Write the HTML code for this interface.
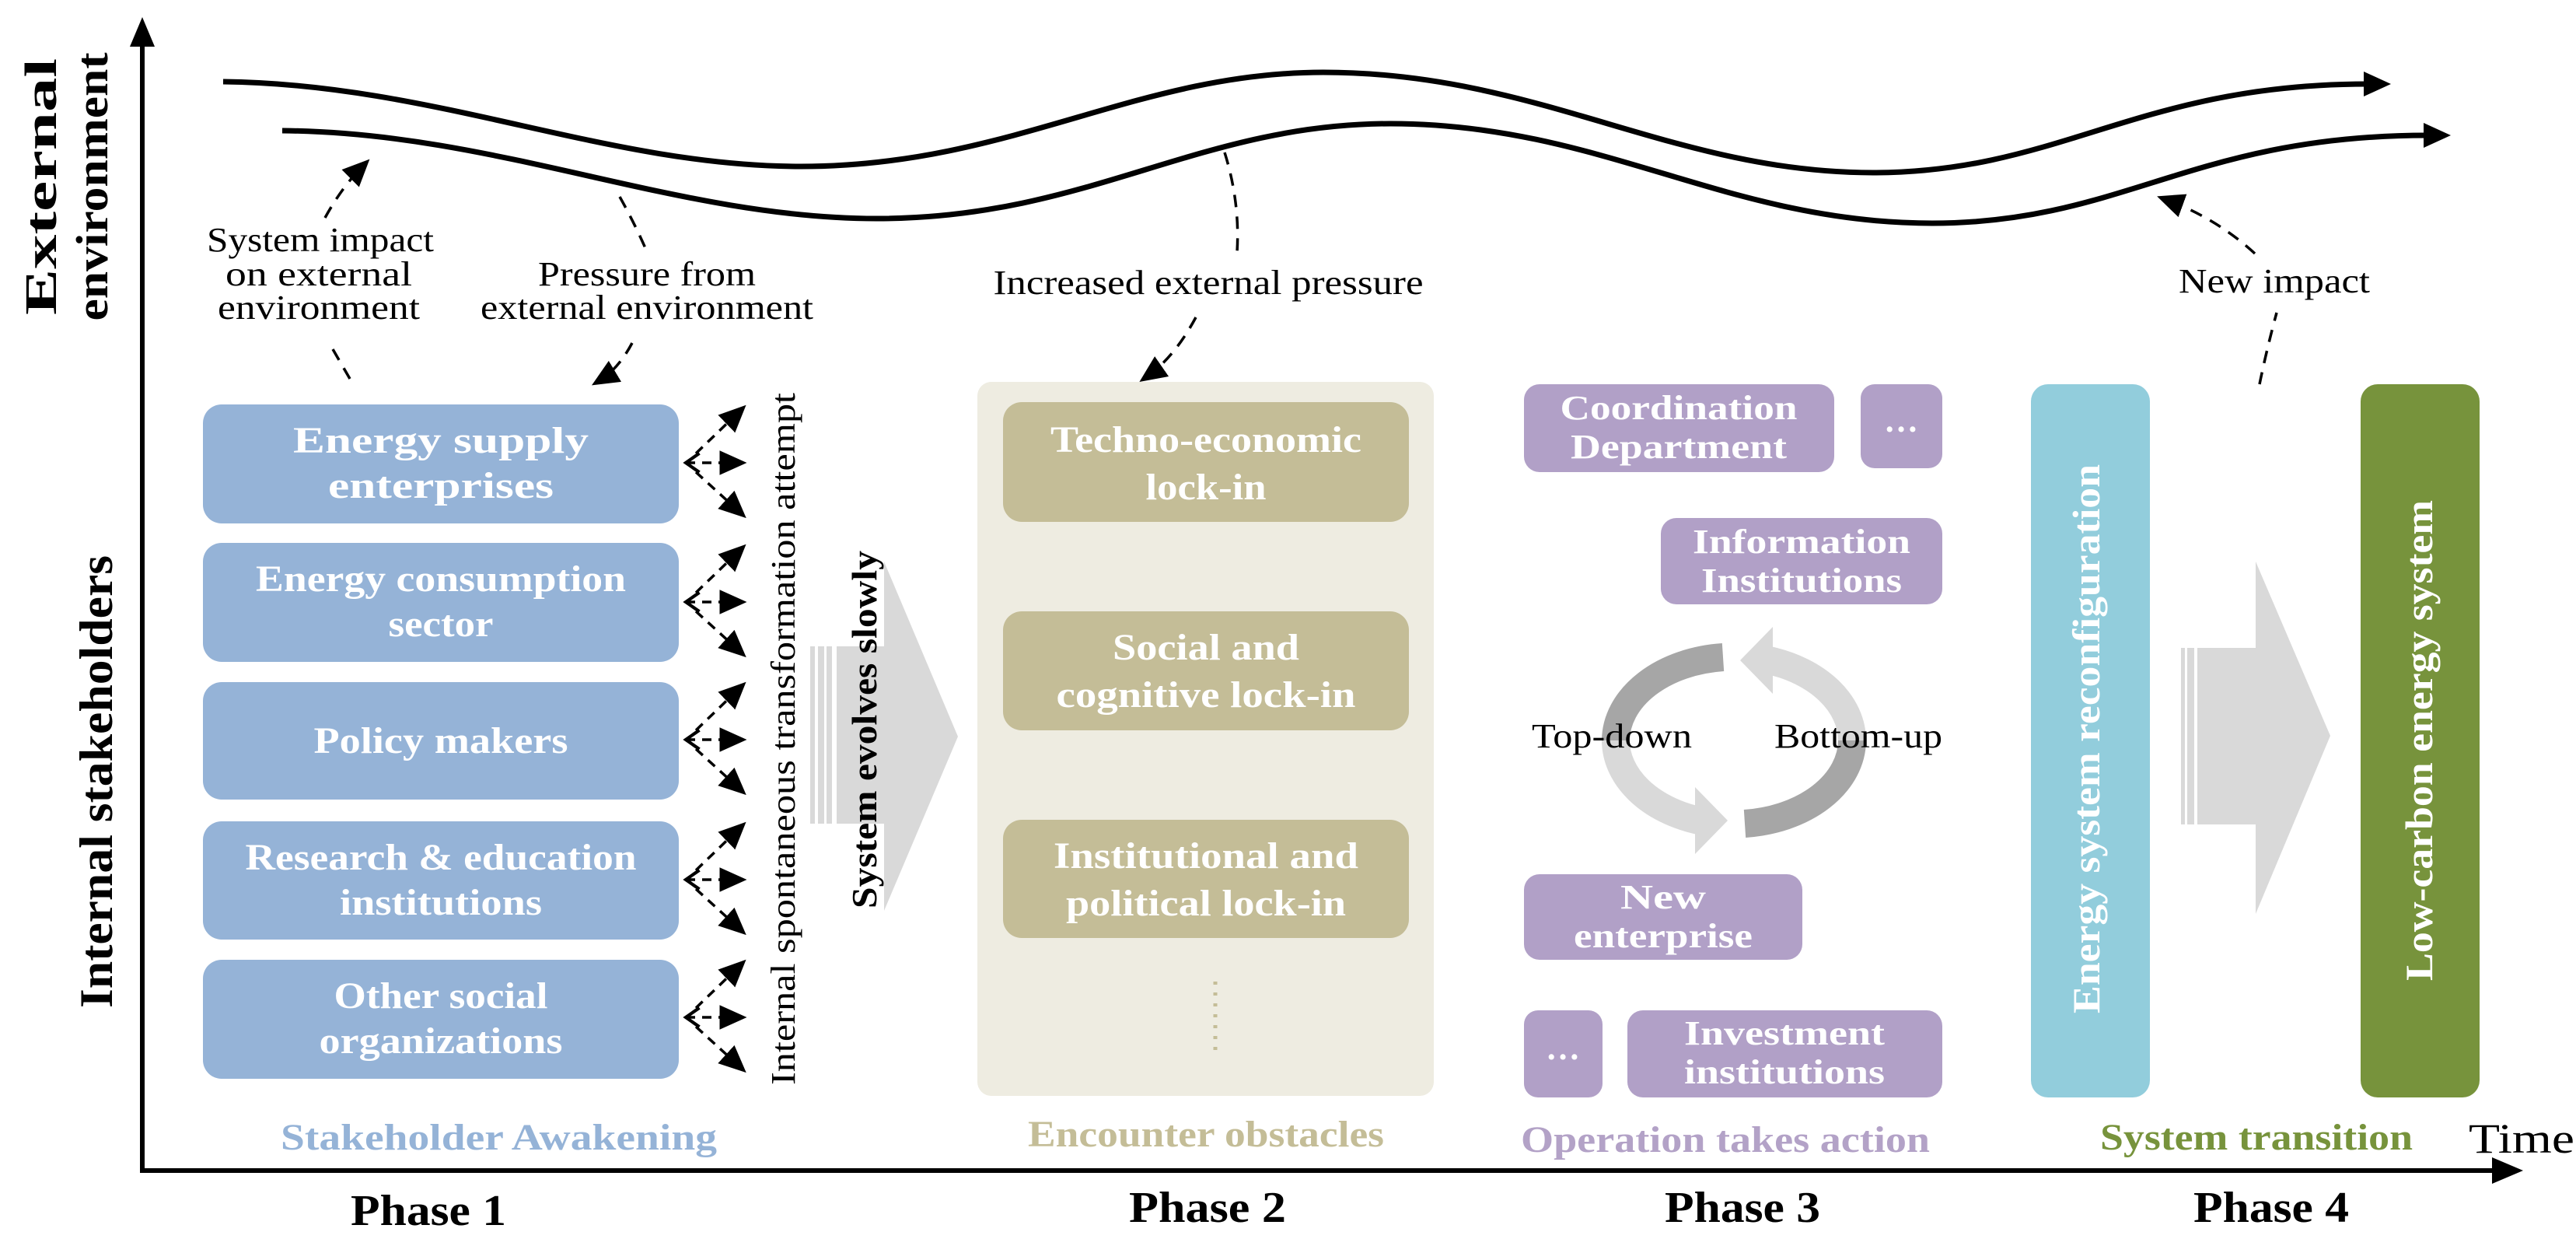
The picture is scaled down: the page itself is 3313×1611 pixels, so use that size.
<!DOCTYPE html>
<html><head><meta charset="utf-8"><style>
html,body{margin:0;padding:0;background:#fff}
svg{display:block}
text{font-family:"Liberation Serif",serif}
</style></head><body>
<svg width="3313" height="1611" viewBox="0 0 3313 1611" xmlns="http://www.w3.org/2000/svg">
<defs>
<marker id="ah" markerWidth="10" markerHeight="10" refX="7" refY="5" orient="auto" markerUnits="strokeWidth"><path d="M0,0.5 L10,5 L0,9.5 Z" fill="#000"/></marker>
<marker id="ob" markerWidth="8" markerHeight="8" refX="1" refY="4" orient="auto" markerUnits="strokeWidth"><path d="M6,0.5 L1,4 L6,7.5" fill="none" stroke="#000" stroke-width="1.2"/></marker>
</defs>

<!-- axes -->
<line x1="183" y1="1508" x2="183" y2="55" stroke="#000" stroke-width="6"/>
<path d="M167,60 L183,22 L199,60 Z" fill="#000"/>
<line x1="180" y1="1505" x2="3210" y2="1505" stroke="#000" stroke-width="6"/>
<path d="M3205,1488 L3245,1505 L3205,1522 Z" fill="#000"/>

<!-- axis labels -->
<text transform="translate(72,240) rotate(-90)" font-size="58" font-weight="bold" text-anchor="middle" textLength="330" lengthAdjust="spacingAndGlyphs">External</text>
<text transform="translate(138,240) rotate(-90)" font-size="58" font-weight="bold" text-anchor="middle" textLength="345" lengthAdjust="spacingAndGlyphs">environment</text>
<text transform="translate(144,1005) rotate(-90)" font-size="60" font-weight="bold" text-anchor="middle" textLength="582" lengthAdjust="spacingAndGlyphs">Internal stakeholders</text>

<!-- waves -->
<path d="M287,105 C560,108 780,214 1030,214 C1300,214 1460,93 1702,93 C1980,93 2150,222 2409,222 C2650,222 2750,108 3045,108" fill="none" stroke="#000" stroke-width="7"/>
<path d="M3040,92 L3075,108 L3040,124 Z" fill="#000"/>
<path d="M363,168 C640,170 870,281 1128,281 C1400,281 1540,159 1788,159 C2060,159 2220,287 2485,287 C2730,287 2820,174 3122,174" fill="none" stroke="#000" stroke-width="7"/>
<path d="M3117,158 L3152,174 L3117,190 Z" fill="#000"/>

<!-- dashed connectors top -->
<g fill="none" stroke="#000" stroke-width="3.5" stroke-dasharray="16,12">
<path d="M418,280 Q440,240 468,212" marker-end="url(#ah)"/>
<path d="M428,449 L450,487"/>
<path d="M797,253 Q815,285 830,319"/>
<path d="M813,441 Q795,475 770,490" marker-end="url(#ah)"/>
<path d="M1575,196 Q1595,260 1591,324"/>
<path d="M1538,408 Q1510,460 1474,485" marker-end="url(#ah)"/>
<path d="M2906,494 Q2915,450 2928,402"/>
<path d="M2900,326 Q2850,280 2784,256" marker-end="url(#ah)"/>
</g>
<g font-size="44" fill="#000">
<text x="412" y="323" text-anchor="middle" textLength="292" lengthAdjust="spacingAndGlyphs">System impact</text>
<text x="410" y="367" text-anchor="middle" textLength="240" lengthAdjust="spacingAndGlyphs">on  external</text>
<text x="410" y="410" text-anchor="middle" textLength="260" lengthAdjust="spacingAndGlyphs">environment</text>
<text x="832" y="367" text-anchor="middle" textLength="280" lengthAdjust="spacingAndGlyphs">Pressure from</text>
<text x="832" y="410" text-anchor="middle" textLength="428" lengthAdjust="spacingAndGlyphs">external environment</text>
<text x="1554" y="378" text-anchor="middle" textLength="553" lengthAdjust="spacingAndGlyphs">Increased external pressure</text>
<text x="2925" y="376" text-anchor="middle" textLength="246" lengthAdjust="spacingAndGlyphs">New impact</text>
</g>

<!-- Phase 1 boxes -->
<g fill="#95b3d7">
<rect x="261" y="520" width="612" height="153" rx="24"/>
<rect x="261" y="698" width="612" height="153" rx="24"/>
<rect x="261" y="877" width="612" height="151" rx="24"/>
<rect x="261" y="1056" width="612" height="152" rx="24"/>
<rect x="261" y="1234" width="612" height="153" rx="24"/>
</g>
<g fill="#fff" font-size="48" font-weight="bold" text-anchor="middle">
<text x="567" y="582" textLength="380" lengthAdjust="spacingAndGlyphs">Energy supply</text>
<text x="567" y="640" textLength="290" lengthAdjust="spacingAndGlyphs">enterprises</text>
<text x="567" y="760" textLength="476" lengthAdjust="spacingAndGlyphs">Energy consumption</text>
<text x="567" y="818" textLength="135" lengthAdjust="spacingAndGlyphs">sector</text>
<text x="567" y="968" textLength="327" lengthAdjust="spacingAndGlyphs">Policy  makers</text>
<text x="567" y="1118" textLength="503" lengthAdjust="spacingAndGlyphs">Research &amp; education</text>
<text x="567" y="1176" textLength="260" lengthAdjust="spacingAndGlyphs">institutions</text>
<text x="567" y="1296" textLength="275" lengthAdjust="spacingAndGlyphs">Other social</text>
<text x="567" y="1354" textLength="313" lengthAdjust="spacingAndGlyphs">organizations</text>
</g>

<!-- fan arrows -->
<g fill="none" stroke="#000" stroke-width="3.5" stroke-dasharray="12,9">
<g id="fan">
<path d="M882,595 L950,595" marker-end="url(#ah)" marker-start="url(#ob)"/>
<path d="M895,583 L952,528" marker-end="url(#ah)"/>
<path d="M895,607 L952,659" marker-end="url(#ah)"/>
</g>
<use href="#fan" y="179"/>
<use href="#fan" y="356"/>
<use href="#fan" y="536"/>
<use href="#fan" y="713"/>
</g>
<text transform="translate(1022,950) rotate(-90)" font-size="44" text-anchor="middle" textLength="890" lengthAdjust="spacingAndGlyphs">Internal spontaneous transformation attempt</text>

<!-- grey arrow phase 1-2 -->
<path d="M1042,831 L1137,831 L1137,722 L1232,947 L1137,1171 L1137,1059 L1042,1059 Z" fill="#d9d9d9"/>
<rect x="1048" y="831" width="4" height="228" fill="#fff"/>
<rect x="1060" y="831" width="3" height="228" fill="#fff"/>
<rect x="1070" y="831" width="6" height="228" fill="#fff"/>
<text transform="translate(1127,938) rotate(-90)" font-size="46" font-weight="bold" text-anchor="middle" textLength="460" lengthAdjust="spacingAndGlyphs">System evolves slowly</text>

<!-- Phase 2 -->
<rect x="1257" y="491" width="587" height="918" rx="18" fill="#eeece1"/>
<g fill="#c4bd97">
<rect x="1290" y="517" width="522" height="154" rx="24"/>
<rect x="1290" y="786" width="522" height="153" rx="24"/>
<rect x="1290" y="1054" width="522" height="152" rx="24"/>
</g>
<g fill="#fff" font-size="48" font-weight="bold" text-anchor="middle">
<text x="1551" y="581" textLength="400" lengthAdjust="spacingAndGlyphs">Techno-economic</text>
<text x="1551" y="642" textLength="155" lengthAdjust="spacingAndGlyphs">lock-in</text>
<text x="1551" y="848" textLength="240" lengthAdjust="spacingAndGlyphs">Social  and</text>
<text x="1551" y="909" textLength="385" lengthAdjust="spacingAndGlyphs">cognitive  lock-in</text>
<text x="1551" y="1116" textLength="392" lengthAdjust="spacingAndGlyphs">Institutional  and</text>
<text x="1551" y="1177" textLength="360" lengthAdjust="spacingAndGlyphs">political  lock-in</text>
</g>
<line x1="1563" y1="1262" x2="1563" y2="1350" stroke="#c4bd97" stroke-width="5" stroke-dasharray="4,10"/>

<!-- Phase 3 -->
<g fill="#b1a0c7">
<rect x="1960" y="494" width="399" height="113" rx="20"/>
<rect x="2393" y="494" width="105" height="108" rx="18"/>
<rect x="2136" y="666" width="362" height="111" rx="20"/>
<rect x="1960" y="1124" width="358" height="110" rx="20"/>
<rect x="1960" y="1299" width="101" height="112" rx="18"/>
<rect x="2093" y="1299" width="405" height="112" rx="20"/>
</g>
<g fill="#fff" font-size="44" font-weight="bold" text-anchor="middle">
<text x="2159" y="539" textLength="305" lengthAdjust="spacingAndGlyphs">Coordination</text>
<text x="2159" y="589" textLength="278" lengthAdjust="spacingAndGlyphs">Department</text>
<text x="2445" y="555">…</text>
<text x="2317" y="711" textLength="280" lengthAdjust="spacingAndGlyphs">Information</text>
<text x="2317" y="761" textLength="258" lengthAdjust="spacingAndGlyphs">Institutions</text>
<text x="2139" y="1168" textLength="110" lengthAdjust="spacingAndGlyphs">New</text>
<text x="2139" y="1218" textLength="230" lengthAdjust="spacingAndGlyphs">enterprise</text>
<text x="2010" y="1362">…</text>
<text x="2295" y="1343" textLength="258" lengthAdjust="spacingAndGlyphs">Investment</text>
<text x="2295" y="1393" textLength="258" lengthAdjust="spacingAndGlyphs">institutions</text>
</g>

<!-- cycle -->
<g fill="none" stroke-width="36">
<path d="M2216,845 A152,108 0 0 0 2078,952" stroke="#a6a6a6"/>
<path d="M2078,952 A152,108 0 0 0 2185,1055" stroke="#d9d9d9"/>
<path d="M2244,1059 A152,108 0 0 0 2382,952" stroke="#a6a6a6"/>
<path d="M2382,952 A152,108 0 0 0 2275,849" stroke="#d9d9d9"/>
</g>
<path d="M2180,1012 L2222,1055 L2180,1098 Z" fill="#d9d9d9"/>
<path d="M2280,806 L2238,849 L2280,892 Z" fill="#d9d9d9"/>
<text x="1970" y="961" font-size="44" textLength="206" lengthAdjust="spacingAndGlyphs">Top-down</text>
<text x="2282" y="961" font-size="44" textLength="216" lengthAdjust="spacingAndGlyphs">Bottom-up</text>

<!-- Phase 4 -->
<rect x="2612" y="494" width="153" height="917" rx="22" fill="#92cddc"/>
<rect x="3036" y="494" width="153" height="917" rx="22" fill="#77933c"/>
<text transform="translate(2700,950) rotate(-90)" font-size="50" font-weight="bold" fill="#fff" text-anchor="middle" textLength="706" lengthAdjust="spacingAndGlyphs">Energy system  reconfiguration</text>
<text transform="translate(3128,952) rotate(-90)" font-size="50" font-weight="bold" fill="#fff" text-anchor="middle" textLength="618" lengthAdjust="spacingAndGlyphs">Low-carbon energy system</text>
<path d="M2805,833 L2901,833 L2901,722 L2997,946 L2901,1175 L2901,1060 L2805,1060 Z" fill="#d9d9d9"/>
<rect x="2810" y="833" width="3" height="227" fill="#fff"/>
<rect x="2822" y="833" width="4" height="227" fill="#fff"/>

<!-- phase labels -->
<g font-size="48" font-weight="bold">
<text x="361" y="1478" fill="#95b3d7" textLength="561" lengthAdjust="spacingAndGlyphs">Stakeholder  Awakening</text>
<text x="1322" y="1474" fill="#c4bd97" textLength="458" lengthAdjust="spacingAndGlyphs">Encounter obstacles</text>
<text x="1956" y="1481" fill="#b3a2c7" textLength="526" lengthAdjust="spacingAndGlyphs">Operation takes action</text>
<text x="2701" y="1478" fill="#77933c" textLength="402" lengthAdjust="spacingAndGlyphs">System transition</text>
</g>
<text x="3175" y="1482" font-size="54" textLength="136" lengthAdjust="spacingAndGlyphs">Time</text>
<g font-size="56" font-weight="bold" text-anchor="middle">
<text x="551" y="1575" textLength="200" lengthAdjust="spacingAndGlyphs">Phase 1</text>
<text x="1553" y="1571" textLength="202" lengthAdjust="spacingAndGlyphs">Phase 2</text>
<text x="2241" y="1571" textLength="200" lengthAdjust="spacingAndGlyphs">Phase 3</text>
<text x="2921" y="1571" textLength="200" lengthAdjust="spacingAndGlyphs">Phase 4</text>
</g>
</svg>
</body></html>
